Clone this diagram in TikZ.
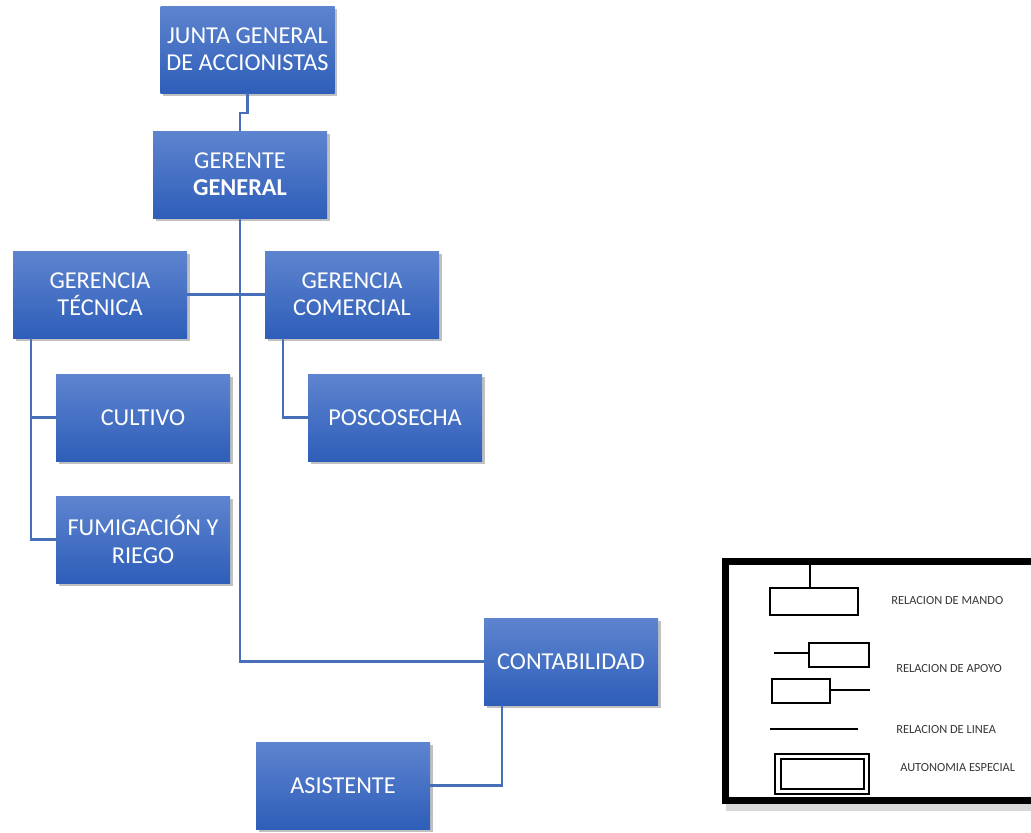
\documentclass[tikz,border=0pt]{standalone}
\usepackage{fontspec}
\setmainfont{Carlito}
\usetikzlibrary{shadows,calc}
\definecolor{boxtop}{RGB}{94,132,207}
\definecolor{boxbot}{RGB}{46,94,185}
\definecolor{conn}{RGB}{70,110,185}
\definecolor{legtext}{RGB}{55,55,55}
\tikzset{
  orgbox/.style={rectangle, top color=boxtop, bottom color=boxbot, draw=none,
    minimum width=130.5pt, minimum height=65.25pt, inner sep=2pt,
    text=white, align=center, font=\fontsize{18.2}{20.5}\selectfont,
    drop shadow={shadow xshift=2pt, shadow yshift=-2.5pt, opacity=0.35, fill=black!70}},
  link/.style={draw=conn, line width=1.7pt},
  legline/.style={draw=black, line width=1.1pt},
  legtxt/.style={anchor=west, text=legtext, font=\fontsize{9.3}{11}\selectfont, inner sep=0pt}
}
\begin{document}
\begin{tikzpicture}[x=0.75pt,y=-0.75pt]
\useasboundingbox (0,0) rectangle (1031,832);
\fill[white] (0,0) rectangle (1031,832);

% nodes
\node[orgbox] (junta) at (247.5,49.5) {JUNTA GENERAL\\DE ACCIONISTAS};
\node[orgbox] (gerente) at (240,174.5) {GERENTE\\\textbf{GENERAL}};
\node[orgbox] (gt) at (100,294.5) {GERENCIA\\TÉCNICA};
\node[orgbox] (gc) at (352,294.5) {GERENCIA\\COMERCIAL};
\node[orgbox] (cultivo) at (143,417.5) {CULTIVO};
\node[orgbox] (posco) at (395,417.5) {POSCOSECHA};
\node[orgbox] (fumig) at (143,539.5) {FUMIGACIÓN Y\\RIEGO};
\node[orgbox] (conta) at (571,661.5) {CONTABILIDAD};
\node[orgbox] (asist) at (343,785.5) {ASISTENTE};

% connectors
\draw[link] (junta.south) -- ++(0,20) -| (gerente.north);
\draw[link] (gerente.south) |- (conta.west);
\draw[link] (gt.east) -- (gc.west);
\draw[link] ([xshift=13.5pt]gt.south west) |- (cultivo.west);
\draw[link] ([xshift=13.5pt]gt.south west) |- (fumig.west);
\draw[link] ([xshift=13.5pt]gc.south west) |- (posco.west);
\draw[link] ([xshift=13.5pt]conta.south west) |- (asist.east);

% legend
\fill[black!25, opacity=0.6] (726,800) rectangle (1031,811);
\draw[black, line width=5.2pt] (725.5,561.5) rectangle (1040,800.5);
% mando
\draw[legline] (770,588) rectangle (858,615);
\draw[legline] (810,565) -- (810,588);
\node[legtxt] (tmando) at (891,601) {RELACION DE MANDO};
% apoyo
\draw[legline] (809,643) rectangle (869,667);
\draw[legline] (774,653) -- (809,653);
\draw[legline] (772,679) rectangle (830,703);
\draw[legline] (830,690) -- (870,690);
\node[legtxt] (tapoyo) at (896,669) {RELACION DE APOYO};
% linea
\draw[legline] (770,729) -- (858,729);
\node[legtxt] (tlinea) at (896,730) {RELACION DE LINEA};
% autonomia
\draw[legline] (775,754) rectangle (869,794);
\draw[legline] (781,759) rectangle (864,789);
\node[legtxt] (tauto) at (900,768) {AUTONOMIA ESPECIAL};
\end{tikzpicture}
\end{document}
